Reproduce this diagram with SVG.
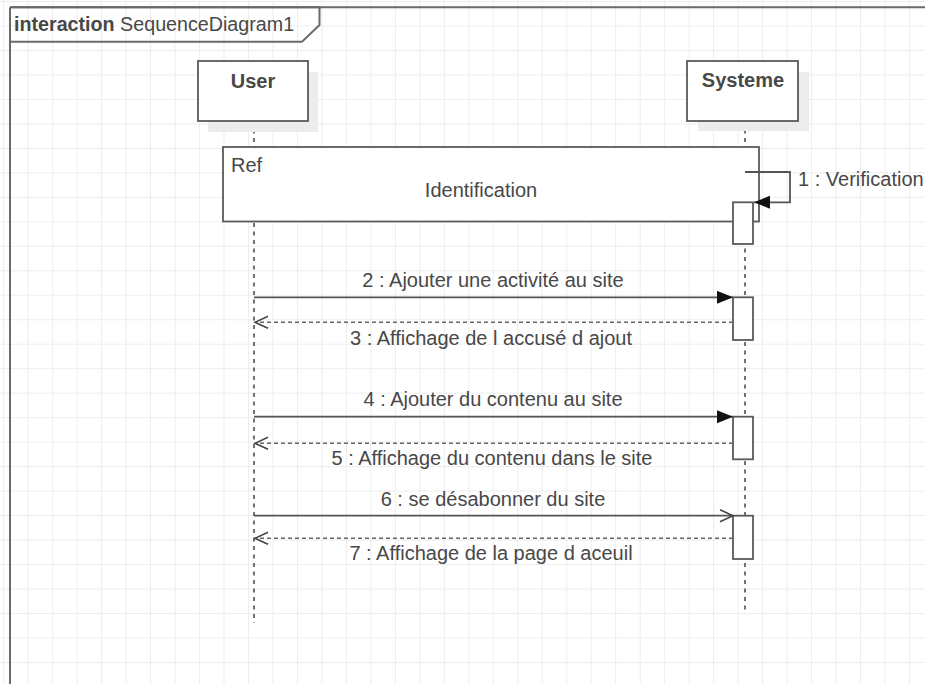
<svg xmlns="http://www.w3.org/2000/svg" width="925" height="684" viewBox="0 0 925 684">
<style>
  text { font-family: "Liberation Sans", Arial, sans-serif; font-size: 20px; fill: #484848; }
  .b { font-weight: bold; }
  .box { fill: #fff; stroke: #5a5a5a; stroke-width: 1.8; }
  .shadow { fill: #ececec; stroke: none; }
  .life { stroke: #444; stroke-width: 1.5; stroke-dasharray: 4 4.5; fill: none; }
  .act { fill: #fff; stroke: #5a5a5a; stroke-width: 1.8; }
  .msg { stroke: #555; stroke-width: 1.8; fill: none; }
  .ret { stroke: #666; stroke-width: 1.5; stroke-dasharray: 4 3; fill: none; }
  .frame { stroke: #6a6a6a; stroke-width: 2; fill: none; }
</style>
<defs>
  <pattern id="grid" x="3.2" y="1" width="24.48" height="24.48" patternUnits="userSpaceOnUse">
    <path d="M0,0.5 H24.48 M0.5,0 V24.48" stroke="#ededed" stroke-width="1" fill="none"/>
  </pattern>
  <marker id="filled" markerUnits="userSpaceOnUse" markerWidth="18" markerHeight="14" refX="16" refY="6.5" orient="auto">
    <path d="M0,0 L16,6.5 L0,13 Z" fill="#111"/>
  </marker>
  <marker id="open" markerUnits="userSpaceOnUse" markerWidth="16" markerHeight="16" refX="14" refY="7" orient="auto">
    <path d="M1,1 L14,7 L1,13" fill="none" stroke="#444" stroke-width="1.5"/>
  </marker>
</defs>

<rect x="0" y="0" width="925" height="684" fill="#fff"/>
<rect x="0" y="0" width="925" height="684" fill="url(#grid)"/>

<g id="frame">
  <path class="frame" d="M10,7.3 H925 M10,7.3 V684"/>
  <path class="frame" d="M10,7.3 H319.5 V25 L302,41.7 H10"/>
  <text x="14" y="31" style="font-size:19.7px"><tspan class="b">interaction</tspan> SequenceDiagram1</text>
</g>

<g id="lifeline-user">
  <line class="life" x1="254" y1="121" x2="254" y2="623"/>
  <rect class="shadow" x="208" y="72" width="110" height="60"/>
  <rect class="box" x="198" y="61" width="110" height="60"/>
  <text class="b" x="253" y="87.5" text-anchor="middle">User</text>
</g>

<g id="lifeline-systeme">
  <line class="life" x1="745" y1="121" x2="745" y2="612"/>
  <rect class="shadow" x="698" y="72" width="111" height="59"/>
  <rect class="box" x="687" y="61" width="111" height="60"/>
  <text class="b" x="743" y="87" text-anchor="middle">Systeme</text>
</g>

<g id="ref-identification">
  <rect class="box" x="223" y="147" width="536" height="74.5"/>
  <text x="231" y="172">Ref</text>
  <text x="481" y="197" text-anchor="middle">Identification</text>
</g>

<g id="activations">
  <rect class="act" x="733" y="202.3" width="20" height="41.7"/>
  <rect class="act" x="733" y="297.3" width="20" height="42.7"/>
  <rect class="act" x="733" y="416.7" width="20" height="42.6"/>
  <rect class="act" x="733" y="515.7" width="20" height="43.3"/>
</g>

<g id="connectors">
  <path class="msg" d="M745,172 H790 V202.3 H754" marker-end="url(#filled)"/>
  <text x="798" y="186">1 : Verification</text>

  <line class="msg" x1="254" y1="297.3" x2="733" y2="297.3" marker-end="url(#filled)"/>
  <text x="493" y="287" text-anchor="middle">2 : Ajouter une activité au site</text>
  <line class="ret" x1="733" y1="322.3" x2="255" y2="322.3" marker-end="url(#open)"/>
  <text x="491" y="345" text-anchor="middle">3 : Affichage de l accusé d ajout</text>

  <line class="msg" x1="254" y1="416.7" x2="733" y2="416.7" marker-end="url(#filled)"/>
  <text x="493" y="406" text-anchor="middle">4 : Ajouter du contenu au site</text>
  <line class="ret" x1="733" y1="443.3" x2="255" y2="443.3" marker-end="url(#open)"/>
  <text x="492" y="465" text-anchor="middle">5 : Affichage du contenu dans le site</text>

  <line class="msg" x1="254" y1="515.7" x2="733" y2="515.7" marker-end="url(#open)"/>
  <text x="493" y="506" text-anchor="middle">6 : se désabonner du site</text>
  <line class="ret" x1="733" y1="538.3" x2="255" y2="538.3" marker-end="url(#open)"/>
  <text x="491" y="559.5" text-anchor="middle">7 : Affichage de la page d aceuil</text>
</g>
</svg>
